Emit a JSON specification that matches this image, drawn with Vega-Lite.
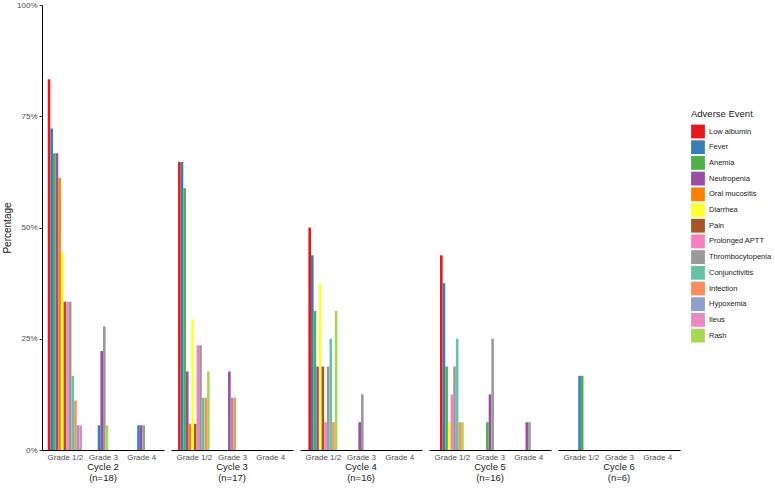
{
  "$schema": "https://vega.github.io/schema/vega-lite/v6.json",
  "background": "white",
  "padding": {"left": 2, "top": 1, "right": 5, "bottom": 5},
  "data": {
    "values": [
      {"cycle": "Cycle 2 (n=18)", "grade": "Grade 1/2", "event": "Low albumin", "pct": 83.33},
      {"cycle": "Cycle 2 (n=18)", "grade": "Grade 1/2", "event": "Fever", "pct": 72.22},
      {"cycle": "Cycle 2 (n=18)", "grade": "Grade 1/2", "event": "Anemia", "pct": 66.67},
      {"cycle": "Cycle 2 (n=18)", "grade": "Grade 1/2", "event": "Neutropenia", "pct": 66.67},
      {"cycle": "Cycle 2 (n=18)", "grade": "Grade 1/2", "event": "Oral mucositis", "pct": 61.11},
      {"cycle": "Cycle 2 (n=18)", "grade": "Grade 1/2", "event": "Diarrhea", "pct": 44.44},
      {"cycle": "Cycle 2 (n=18)", "grade": "Grade 1/2", "event": "Pain", "pct": 33.33},
      {"cycle": "Cycle 2 (n=18)", "grade": "Grade 1/2", "event": "Prolonged APTT", "pct": 33.33},
      {"cycle": "Cycle 2 (n=18)", "grade": "Grade 1/2", "event": "Thrombocytopenia", "pct": 33.33},
      {"cycle": "Cycle 2 (n=18)", "grade": "Grade 1/2", "event": "Conjunctivitis", "pct": 16.67},
      {"cycle": "Cycle 2 (n=18)", "grade": "Grade 1/2", "event": "Infection", "pct": 11.11},
      {"cycle": "Cycle 2 (n=18)", "grade": "Grade 1/2", "event": "Hypoxemia", "pct": 5.56},
      {"cycle": "Cycle 2 (n=18)", "grade": "Grade 1/2", "event": "Ileus", "pct": 5.56},
      {"cycle": "Cycle 2 (n=18)", "grade": "Grade 3", "event": "Fever", "pct": 5.56},
      {"cycle": "Cycle 2 (n=18)", "grade": "Grade 3", "event": "Neutropenia", "pct": 22.22},
      {"cycle": "Cycle 2 (n=18)", "grade": "Grade 3", "event": "Thrombocytopenia", "pct": 27.78},
      {"cycle": "Cycle 2 (n=18)", "grade": "Grade 3", "event": "Rash", "pct": 5.56},
      {"cycle": "Cycle 2 (n=18)", "grade": "Grade 4", "event": "Fever", "pct": 5.56},
      {"cycle": "Cycle 2 (n=18)", "grade": "Grade 4", "event": "Neutropenia", "pct": 5.56},
      {"cycle": "Cycle 2 (n=18)", "grade": "Grade 4", "event": "Thrombocytopenia", "pct": 5.56},
      {"cycle": "Cycle 3 (n=17)", "grade": "Grade 1/2", "event": "Low albumin", "pct": 64.71},
      {"cycle": "Cycle 3 (n=17)", "grade": "Grade 1/2", "event": "Fever", "pct": 64.71},
      {"cycle": "Cycle 3 (n=17)", "grade": "Grade 1/2", "event": "Anemia", "pct": 58.82},
      {"cycle": "Cycle 3 (n=17)", "grade": "Grade 1/2", "event": "Neutropenia", "pct": 17.65},
      {"cycle": "Cycle 3 (n=17)", "grade": "Grade 1/2", "event": "Oral mucositis", "pct": 5.88},
      {"cycle": "Cycle 3 (n=17)", "grade": "Grade 1/2", "event": "Diarrhea", "pct": 29.41},
      {"cycle": "Cycle 3 (n=17)", "grade": "Grade 1/2", "event": "Pain", "pct": 5.88},
      {"cycle": "Cycle 3 (n=17)", "grade": "Grade 1/2", "event": "Prolonged APTT", "pct": 23.53},
      {"cycle": "Cycle 3 (n=17)", "grade": "Grade 1/2", "event": "Thrombocytopenia", "pct": 23.53},
      {"cycle": "Cycle 3 (n=17)", "grade": "Grade 1/2", "event": "Conjunctivitis", "pct": 11.76},
      {"cycle": "Cycle 3 (n=17)", "grade": "Grade 1/2", "event": "Infection", "pct": 11.76},
      {"cycle": "Cycle 3 (n=17)", "grade": "Grade 1/2", "event": "Rash", "pct": 17.65},
      {"cycle": "Cycle 3 (n=17)", "grade": "Grade 3", "event": "Neutropenia", "pct": 17.65},
      {"cycle": "Cycle 3 (n=17)", "grade": "Grade 3", "event": "Thrombocytopenia", "pct": 11.76},
      {"cycle": "Cycle 3 (n=17)", "grade": "Grade 3", "event": "Infection", "pct": 11.76},
      {"cycle": "Cycle 4 (n=16)", "grade": "Grade 1/2", "event": "Low albumin", "pct": 50.0},
      {"cycle": "Cycle 4 (n=16)", "grade": "Grade 1/2", "event": "Fever", "pct": 43.75},
      {"cycle": "Cycle 4 (n=16)", "grade": "Grade 1/2", "event": "Anemia", "pct": 31.25},
      {"cycle": "Cycle 4 (n=16)", "grade": "Grade 1/2", "event": "Neutropenia", "pct": 18.75},
      {"cycle": "Cycle 4 (n=16)", "grade": "Grade 1/2", "event": "Diarrhea", "pct": 37.5},
      {"cycle": "Cycle 4 (n=16)", "grade": "Grade 1/2", "event": "Pain", "pct": 18.75},
      {"cycle": "Cycle 4 (n=16)", "grade": "Grade 1/2", "event": "Prolonged APTT", "pct": 6.25},
      {"cycle": "Cycle 4 (n=16)", "grade": "Grade 1/2", "event": "Thrombocytopenia", "pct": 18.75},
      {"cycle": "Cycle 4 (n=16)", "grade": "Grade 1/2", "event": "Conjunctivitis", "pct": 25.0},
      {"cycle": "Cycle 4 (n=16)", "grade": "Grade 1/2", "event": "Infection", "pct": 6.25},
      {"cycle": "Cycle 4 (n=16)", "grade": "Grade 1/2", "event": "Rash", "pct": 31.25},
      {"cycle": "Cycle 4 (n=16)", "grade": "Grade 3", "event": "Neutropenia", "pct": 6.25},
      {"cycle": "Cycle 4 (n=16)", "grade": "Grade 3", "event": "Thrombocytopenia", "pct": 12.5},
      {"cycle": "Cycle 5 (n=16)", "grade": "Grade 1/2", "event": "Low albumin", "pct": 43.75},
      {"cycle": "Cycle 5 (n=16)", "grade": "Grade 1/2", "event": "Fever", "pct": 37.5},
      {"cycle": "Cycle 5 (n=16)", "grade": "Grade 1/2", "event": "Anemia", "pct": 18.75},
      {"cycle": "Cycle 5 (n=16)", "grade": "Grade 1/2", "event": "Diarrhea", "pct": 6.25},
      {"cycle": "Cycle 5 (n=16)", "grade": "Grade 1/2", "event": "Prolonged APTT", "pct": 12.5},
      {"cycle": "Cycle 5 (n=16)", "grade": "Grade 1/2", "event": "Thrombocytopenia", "pct": 18.75},
      {"cycle": "Cycle 5 (n=16)", "grade": "Grade 1/2", "event": "Conjunctivitis", "pct": 25.0},
      {"cycle": "Cycle 5 (n=16)", "grade": "Grade 1/2", "event": "Infection", "pct": 6.25},
      {"cycle": "Cycle 5 (n=16)", "grade": "Grade 1/2", "event": "Rash", "pct": 6.25},
      {"cycle": "Cycle 5 (n=16)", "grade": "Grade 3", "event": "Anemia", "pct": 6.25},
      {"cycle": "Cycle 5 (n=16)", "grade": "Grade 3", "event": "Neutropenia", "pct": 12.5},
      {"cycle": "Cycle 5 (n=16)", "grade": "Grade 3", "event": "Thrombocytopenia", "pct": 25.0},
      {"cycle": "Cycle 5 (n=16)", "grade": "Grade 4", "event": "Neutropenia", "pct": 6.25},
      {"cycle": "Cycle 5 (n=16)", "grade": "Grade 4", "event": "Thrombocytopenia", "pct": 6.25},
      {"cycle": "Cycle 6 (n=6)", "grade": "Grade 1/2", "event": "Fever", "pct": 16.67},
      {"cycle": "Cycle 6 (n=6)", "grade": "Grade 1/2", "event": "Anemia", "pct": 16.67}
    ]
  },
  "transform": [
    {"window": [{"op": "row_number", "as": "slot"}], "groupby": ["cycle", "grade"]},
    {"joinaggregate": [{"op": "count", "as": "nbars"}], "groupby": ["cycle", "grade"]},
    {"calculate": "indexof(['Grade 1/2', 'Grade 3', 'Grade 4'], datum.grade) + 1 + (datum.slot - (datum.nbars + 1) / 2) * 0.9 / 13", "as": "xpos"}
  ],
  "facet": {
    "column": {
      "field": "cycle",
      "type": "nominal",
      "sort": null,
      "header": {
        "title": null,
        "labelOrient": "bottom",
        "labelExpr": "[slice(datum.value, 0, indexof(datum.value, ' (')), slice(datum.value, indexof(datum.value, ' (') + 1)]",
        "labelFont": "Liberation Sans",
        "labelFontSize": 9.5,
        "labelColor": "#1a1a1a",
        "labelPadding": 1,
        "labelLineHeight": 11
      }
    }
  },
  "spacing": 7,
  "spec": {
    "width": 122,
    "height": 445,
    "mark": {"type": "bar", "width": 2.6},
    "encoding": {
      "x": {
        "field": "xpos",
        "type": "quantitative",
        "scale": {"domain": [0.4, 3.6], "nice": false, "zero": false, "padding": 0},
        "axis": {
          "title": null,
          "values": [1, 2, 3],
          "labelExpr": "['Grade 1/2', 'Grade 3', 'Grade 4'][datum.value - 1]",
          "labelAngle": 0,
          "ticks": false,
          "grid": false,
          "domainColor": "black",
          "labelPadding": 3,
          "labelFlush": false
        }
      },
      "y": {
        "field": "pct",
        "type": "quantitative",
        "scale": {"domain": [0, 100], "nice": false},
        "axis": {
          "title": "Percentage",
          "values": [0, 25, 50, 75, 100],
          "labelExpr": "datum.value + '%'",
          "grid": false,
          "domainColor": "black",
          "tickColor": "#333333",
          "tickSize": 3
        }
      },
      "color": {
        "field": "event",
        "type": "nominal",
        "scale": {
          "domain": ["Low albumin", "Fever", "Anemia", "Neutropenia", "Oral mucositis", "Diarrhea", "Pain", "Prolonged APTT", "Thrombocytopenia", "Conjunctivitis", "Infection", "Hypoxemia", "Ileus", "Rash"],
          "range": ["#E41A1C", "#377EB8", "#4DAF4A", "#984EA3", "#FF7F00", "#FFFF33", "#A65628", "#F781BF", "#999999", "#66C2A5", "#FC8D62", "#8DA0CB", "#E78AC3", "#A6D854"]
        },
        "legend": {
          "title": "Adverse Event",
          "orient": "none",
          "legendX": 649,
          "legendY": 104,
          "symbolType": "square",
          "symbolSize": 190,
          "symbolStrokeWidth": 0,
          "rowPadding": 1.7,
          "labelFontSize": 7.5,
          "labelColor": "#1a1a1a",
          "titleFontSize": 9.5,
          "titleFontWeight": "normal",
          "titleColor": "#1a1a1a",
          "titlePadding": 6
        }
      }
    }
  },
  "config": {
    "font": "Liberation Sans",
    "view": {"stroke": null},
    "axis": {
      "labelFont": "Liberation Sans",
      "labelFontSize": 8,
      "labelColor": "#4d4d4d",
      "titleFont": "Liberation Sans",
      "titleFontSize": 10,
      "titleFontWeight": "normal",
      "titleColor": "#1a1a1a"
    },
    "legend": {"labelFont": "Liberation Sans", "titleFont": "Liberation Sans"}
  }
}
